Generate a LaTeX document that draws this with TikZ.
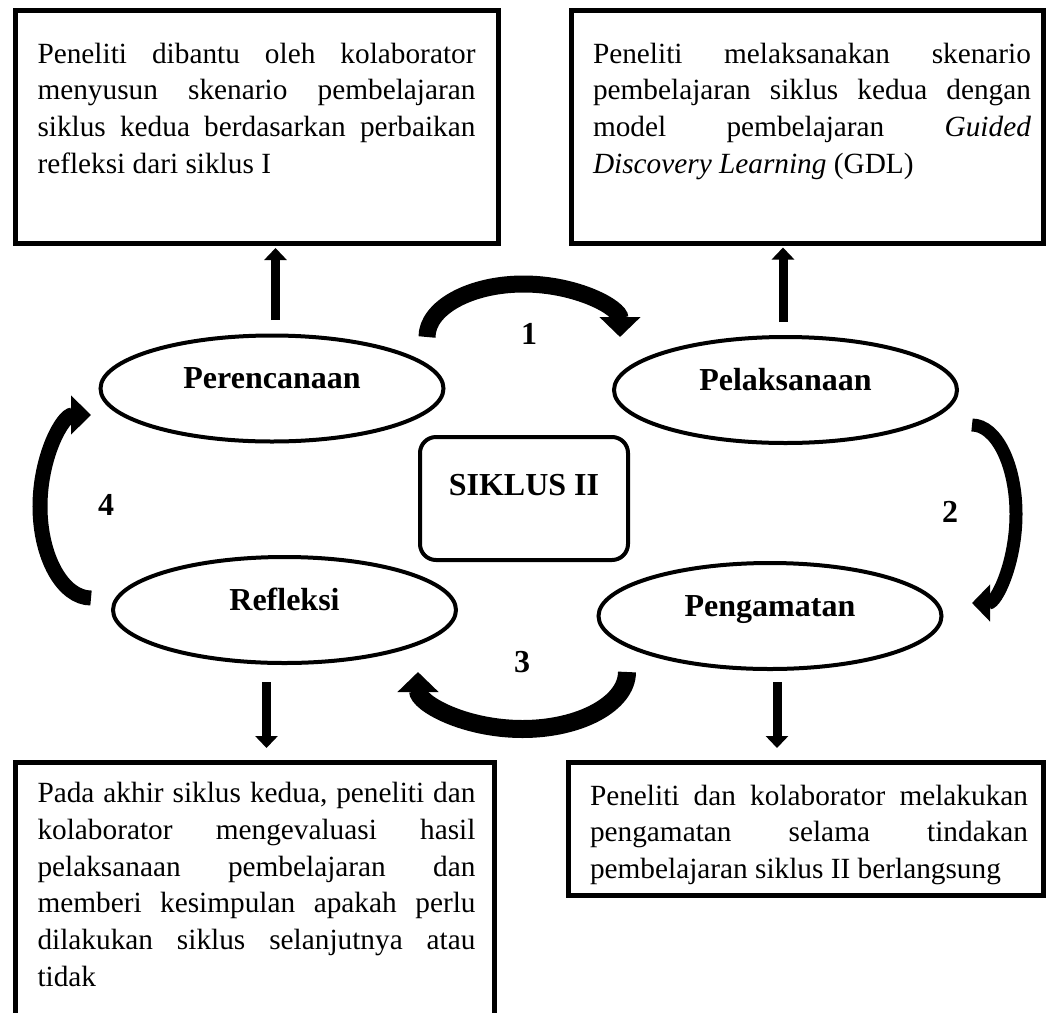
\documentclass[tikz,border=0pt]{standalone}
\usepackage{fontspec}
\setmainfont{Liberation Serif}
\usetikzlibrary{arrows.meta,shapes.geometric}
\newcommand\jl[1]{\hbox to 438pt{\rule{0pt}{22pt}\frenchspacing\spaceskip=0.25em plus 1fil\xspaceskip=\spaceskip #1}}
\newcommand\lastl[1]{\hbox{\rule{0pt}{22pt}#1}}
\newcommand\tbox[5]{\hbox to #1{\kern#3\vbox to #2{\kern#4\baselineskip=36.8pt #5\vfil}\hss}}
\begin{document}
\begin{tikzpicture}[x=1pt,y=-1pt,
  tb/.style={draw, line width=5pt, rectangle, inner sep=0pt, outer sep=0pt, anchor=north west,
    font=\fontsize{29.3pt}{36.8pt}\selectfont},
  ell/.style={draw, line width=4pt, ellipse, inner sep=0pt, outer sep=0pt,
    minimum width=343pt, minimum height=106pt, font=\fontsize{32pt}{38pt}\selectfont\bfseries},
  num/.style={font=\fontsize{32pt}{38pt}\selectfont\bfseries, inner sep=0pt},
  straightarr/.style={line width=9pt, -{Triangle[length=12pt,width=22pt]}},
  curvearr/.style={line width=#1, -{Triangle[length=20pt,width=40pt]}}]
\fill[white] (0,0) rectangle (1046,1012);
\useasboundingbox (0,0) rectangle (1046,1012);

% text boxes
\node[tb] (TL) at (15.5,10.5) {\tbox{483pt}{233pt}{22pt}{30.5pt}{%
  \jl{Peneliti dibantu oleh kolaborator}
  \jl{menyusun skenario pembelajaran}
  \jl{siklus kedua berdasarkan perbaikan}
  \lastl{refleksi dari siklus I}}};
\node[tb] (TR) at (571,10.5) {\tbox{472.5pt}{232.5pt}{22pt}{30.5pt}{%
  \jl{Peneliti melaksanakan skenario}
  \jl{pembelajaran siklus kedua dengan}
  \jl{model pembelajaran \textit{Guided}}
  \lastl{\textit{Discovery Learning} (GDL)}}};
\node[tb] (BL) at (15.5,762.5) {\tbox{479pt}{270pt}{22pt}{18pt}{%
  \jl{Pada akhir siklus kedua, peneliti dan}
  \jl{kolaborator mengevaluasi hasil}
  \jl{pelaksanaan pembelajaran dan}
  \jl{memberi kesimpulan apakah perlu}
  \jl{dilakukan siklus selanjutnya atau}
  \lastl{tidak}}};
\node[tb] (BR) at (568,762.5) {\tbox{475.5pt}{133pt}{22pt}{20.5pt}{%
  \jl{Peneliti dan kolaborator melakukan}
  \jl{pengamatan selama tindakan}
  \lastl{pembelajaran siklus II berlangsung}}};

% ellipses
\node[ell] (P) at (272,388.5) {\smash{Perencanaan}};
\node[ell] (L) at (785.5,390) {\smash{Pelaksanaan}};
\node[ell] (R) at (284.5,610) {\smash{Refleksi}};
\node[ell] (G) at (770,616) {\smash{Pengamatan}};

% centre box
\node[draw, line width=4pt, rounded corners=16pt, minimum width=208pt, minimum height=123pt,
  inner sep=0pt, outer sep=0pt, font=\fontsize{32pt}{38pt}\selectfont\bfseries]
  (S) at (524,498.5) {\smash{\raisebox{3.5pt}{SIKLUS II}}};

% numbers
\node[num] (n1) at (529,334) {1};
\node[num] (n2) at (950,512) {2};
\node[num] (n3) at (522,662) {3};
\node[num] (n4) at (106,505) {4};

% straight arrows
\coordinate (u1) at ([xshift=3.5pt]P.north);
\coordinate (u2) at ([xshift=-2.5pt]L.north);
\coordinate (d1) at ([xshift=-18pt]R.south);
\coordinate (d2) at ([xshift=7pt]G.south);
\draw[straightarr, shorten <=15.5pt, shorten >=4.5pt] (u1) -- (u1 |- TL.south);
\draw[straightarr, shorten <=15pt, shorten >=4.5pt] (u2) -- (u2 |- TR.south);
\draw[straightarr, shorten <=19pt, shorten >=14.5pt] (d1) -- (d1 |- BL.north);
\draw[straightarr, shorten <=13pt, shorten >=14.5pt] (d2) -- (d2 |- BR.north);

% curved arrows
\coordinate (c1) at (427,337);
\coordinate (c2) at (972,425);
\coordinate (c3) at (627,672);
\coordinate (c4) at (91,598);
\draw[curvearr=17pt] (c1) arc[start angle=180, end angle=360, x radius=96.5, y radius=53];
\draw[line width=13pt, -{Triangle[length=18pt,width=36pt]}] (c2) arc[start angle=-90, end angle=90, x radius=44, y radius=89];
\draw[curvearr=18pt] (c3) arc[start angle=0, end angle=180, x radius=104.5, y radius=57];
\draw[line width=15pt, -{Triangle[length=20pt,width=38pt]}] (c4) arc[start angle=90, end angle=270, x radius=51, y radius=91.5];
\end{tikzpicture}
\end{document}
